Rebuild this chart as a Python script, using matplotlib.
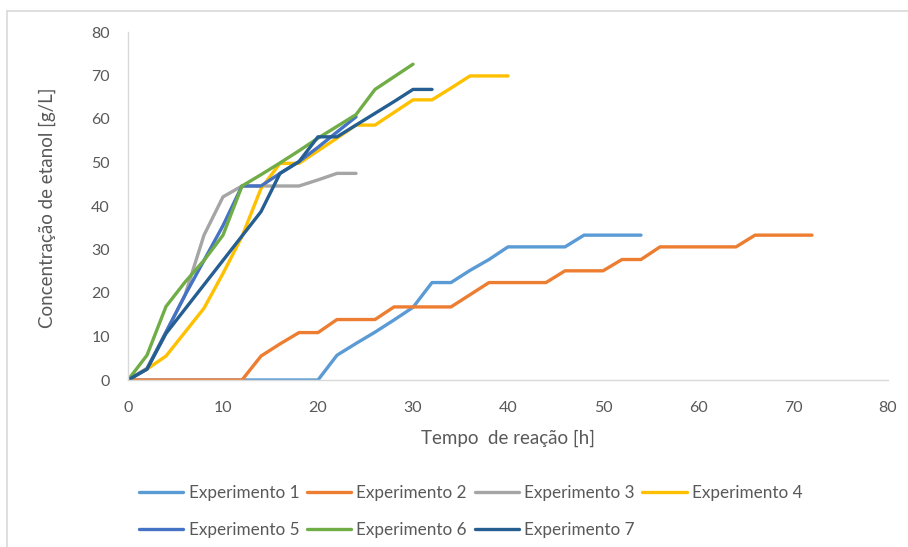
import matplotlib
matplotlib.use("Agg")
import matplotlib.pyplot as plt
from matplotlib.lines import Line2D
import numpy as np

plt.rcParams['font.family'] = ['Lato', 'DejaVu Sans']

# ---- data ----
series_names = ["Experimento 1", "Experimento 2", "Experimento 3", "Experimento 4",
                "Experimento 5", "Experimento 6", "Experimento 7"]
colors = ["#5B9BD5", "#ED7D31", "#A5A5A5", "#FFC000", "#4472C4", "#70AD47", "#255E91"]

t1 = list(range(0, 55, 2))
exp1 = [0, 0, 0, 0, 0, 0, 0, 0, 0, 0, 0, 5.7, 8.4, 11.0, 13.8, 16.7, 22.4, 22.4,
        25.2, 27.7, 30.6, 30.6, 30.6, 30.6, 33.3, 33.3, 33.3, 33.3]
t2 = list(range(0, 73, 2))
exp2 = [0, 0, 0, 0, 0, 0, 0, 5.5, 8.3, 10.9, 10.9, 13.9, 13.9, 13.9, 16.8, 16.8, 16.8,
        16.8, 19.6, 22.4, 22.4, 22.4, 22.4, 25.1, 25.1, 25.1, 27.7, 27.7, 30.6, 30.6,
        30.6, 30.6, 30.6, 33.3, 33.3, 33.3, 33.3]
t3 = list(range(0, 25, 2))
exp3 = [0, 2.7, 11.0, 19.5, 33.3, 42.1, 44.6, 44.6, 44.6, 44.6, 46.0, 47.5, 47.5]
t4 = list(range(0, 41, 2))
exp4 = [0, 2.5, 5.5, 11.0, 16.5, 24.5, 33.0, 44.0, 49.8, 49.8, 52.7, 55.6, 58.6, 58.6,
        61.5, 64.4, 64.4, 67.1, 69.9, 69.9, 69.9]
t5 = list(range(0, 25, 2))
exp5 = [0, 2.5, 11.0, 19.5, 27.5, 35.5, 44.6, 44.6, 47.5, 50.2, 53.5, 57.0, 60.5]
t6 = list(range(0, 31, 2))
exp6 = [0, 5.7, 16.9, 22.5, 27.5, 33.3, 44.6, 47.2, 49.9, 52.7, 55.6, 58.3, 61.0,
        66.8, 69.7, 72.6]
t7 = list(range(0, 33, 2))
exp7 = [0, 2.5, 10.7, 16.3, 21.9, 27.5, 33.1, 38.7, 47.5, 50.2, 55.9, 55.9, 58.6,
        61.3, 64.0, 66.8, 66.8]

times = [t1, t2, t3, t4, t5, t6, t7]
values = [exp1, exp2, exp3, exp4, exp5, exp6, exp7]

x_ticks = [0, 10, 20, 30, 40, 50, 60, 70, 80]
y_ticks = [0, 10, 20, 30, 40, 50, 60, 70, 80]
x_label = "Tempo  de reação [h]"
y_label = "Concentração de etanol [g/L]"

# ---- figure ----
W, H = 908, 547
fig = plt.figure(figsize=(W / 100, H / 100), dpi=100)
ax = fig.add_axes([128 / W, 1 - 380 / H, (888 - 128) / W, (380 - 32) / H])

handles = []
for t, v, c, n in zip(times, values, colors, series_names):
    h, = ax.plot(t, v, color=c, lw=2.4, label=n, solid_capstyle='round',
                 solid_joinstyle='round')
    handles.append(h)

ax.set_xlim(0, 80)
ax.set_ylim(0, 80)
ax.set_xticks(x_ticks)
ax.set_yticks(y_ticks)
txt_color = "#595959"
ax.tick_params(axis='both', length=0, labelsize=11.5, colors=txt_color)
ax.tick_params(axis='x', pad=15)
ax.tick_params(axis='y', pad=13)
for s in ['top', 'right']:
    ax.spines[s].set_visible(False)
for s in ['left', 'bottom']:
    ax.spines[s].set_color("#D9D9D9")
    ax.spines[s].set_linewidth(1.0)

fig.text(508 / W, 1 - 438 / H, x_label, ha='center', va='center', fontsize=13.5,
         color=txt_color)
fig.text(47 / W, 1 - 208 / H, y_label, ha='center', va='center', rotation=90,
         fontsize=13.5, color=txt_color)

# row-major legend order for 4 columns
order = [0, 4, 1, 5, 2, 6, 3]
leg = fig.legend([handles[i] for i in order], [series_names[i] for i in order],
                 loc='upper left', bbox_to_anchor=(139 / W, 1 - 485 / H), ncol=4,
                 frameon=False, fontsize=12.3, handlelength=2.6, handletextpad=0.3,
                 columnspacing=0.45, labelspacing=1.2, borderaxespad=0, borderpad=0)
for txt in leg.get_texts():
    txt.set_color(txt_color)

# chart border (top and left visible)
fig.add_artist(Line2D([7 / W, 1], [1 - 11 / H, 1 - 11 / H], color="#D9D9D9", lw=1.2,
                      transform=fig.transFigure))
fig.add_artist(Line2D([7 / W, 7 / W], [0, 1 - 11 / H], color="#D9D9D9", lw=1.2,
                      transform=fig.transFigure))

fig.savefig("out.png", dpi=100, facecolor="white")
